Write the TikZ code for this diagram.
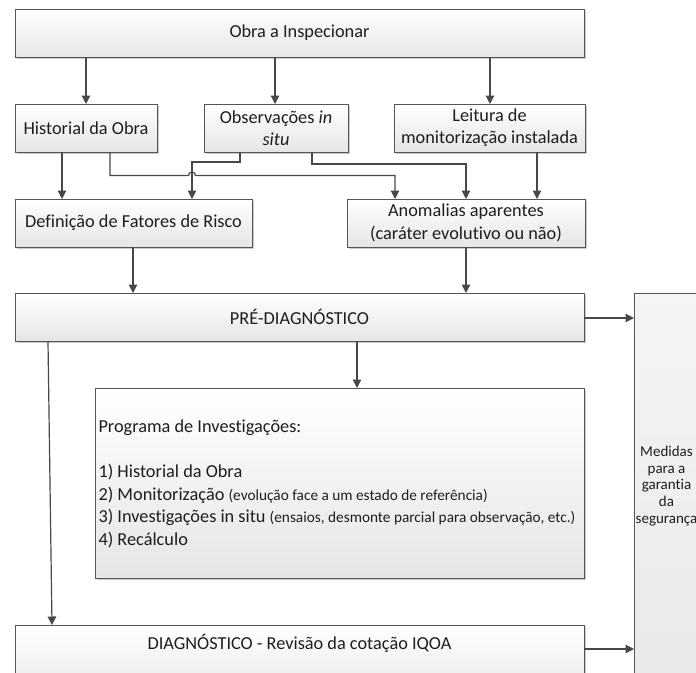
\documentclass[tikz,border=0pt]{standalone}
\usepackage{fontspec}
\setmainfont[Ligatures=NoCommon]{Carlito}
\usetikzlibrary{arrows.meta,shadows}
\definecolor{linec}{HTML}{484848}
\definecolor{boxline}{HTML}{555555}
\definecolor{txt}{HTML}{1E1E1E}
\tikzset{
  box/.style={draw=boxline, line width=1pt, top color=white, bottom color=black!10,
    drop shadow={shadow xshift=1.6pt, shadow yshift=-1.6pt, opacity=0.35, fill=black!60},
    inner sep=0pt, outer sep=0pt, align=center, text=txt,
    font=\fontsize{18.3}{22.3}\selectfont},
  conn/.style={draw=linec, line width=1.2pt, -{Triangle[length=8.5pt,width=8.5pt]}},
  lbl/.style={inner sep=0pt, outer sep=0pt, text=txt, align=center}
}
\newcommand{\smalltext}{\fontsize{15.3}{18}\selectfont}
\begin{document}
\begin{tikzpicture}[x=1pt,y=-1pt]
\useasboundingbox (0,0) rectangle (696,672);
\clip (0,0) rectangle (696,672);
% boxes
\node[box, minimum width=569pt, minimum height=48pt] (obra) at (299.5,33) {Obra a Inspecionar};
\node[box, minimum width=142pt, minimum height=48pt] (hist) at (86,128) {Historial da Obra};
\node[box, minimum width=144pt, minimum height=48pt] (obs) at (276,128) {Observações \textit{in}\\\textit{situ}};
\node[box, minimum width=191pt, minimum height=48pt] (leit) at (489.5,128) {Leitura de\\monitorização instalada};
\node[box, minimum width=237pt, minimum height=48pt] (def) at (133.5,223) {Definição de Fatores de Risco};
\node[box, minimum width=238pt, minimum height=48pt] (anom) at (466,223) {Anomalias aparentes\\(caráter evolutivo ou não)};
\node[box, minimum width=569pt, minimum height=48pt] (pre) at (299.5,317) {PRÉ-DIAGNÓSTICO};
\node[box, minimum width=489pt, minimum height=190pt] (prog) at (339.5,483) {};
\node[lbl, anchor=west, align=left, font=\fontsize{18.3}{22.6}\selectfont] (progtxt) at (98.5,484) {Programa de Investigações:\\[22.6pt]
1) Historial da Obra\\
2) Monitorização {\smalltext(evolução face a um estado de referência)}\\
3) Investigações in situ {\smalltext(ensaios, desmonte parcial para observação, etc.)}\\
4) Recálculo};
\node[box, minimum width=569pt, minimum height=80pt] (diag) at (299.5,665) {};
\node[lbl, font=\fontsize{18.3}{22.3}\selectfont] (diagtxt) at (299.5,643) {DIAGNÓSTICO - Revisão da cotação IQOA};
\node[box, top color=black!4, bottom color=black!9, minimum width=80pt, minimum height=420pt] (med) at (674,503) {};
\node[lbl, font=\fontsize{15}{16.8}\selectfont] (medtxt) at (666.5,486) {Medidas\\para a\\garantia\\da\\segurança};
% connectors
\draw[conn] (86,0 |- obra.south) -- (86,0 |- hist.north);
\draw[conn] (275,0 |- obra.south) -- (275,0 |- obs.north);
\draw[conn] (490,0 |- obra.south) -- (490,0 |- leit.north);
\draw[conn] (62,0 |- hist.south) -- (62,0 |- def.north);
\draw[conn] (240,0 |- obs.south) -- (240,162) -- (192,162) -- (192,0 |- def.north);
\draw[conn] (110,0 |- hist.south) -- (110,175.5) -- (188.5,175.5) arc[start angle=180, end angle=0, radius=3.5pt] -- (395,175.5) -- (395,0 |- anom.north);
\draw[conn] (312,0 |- obs.south) -- (312,164) -- (466,164) -- (466,0 |- anom.north);
\draw[conn] (537,0 |- leit.south) -- (537,0 |- anom.north);
\draw[conn] (133,0 |- def.south) -- (133,0 |- pre.north);
\draw[conn] (466,0 |- anom.south) -- (466,0 |- pre.north);
\draw[conn] (357,0 |- pre.south) -- (357,0 |- prog.north);
\draw[conn] (48,0 |- pre.south) -- (52,0 |- diag.north);
\draw[conn] (0,318 -| pre.east) -- (0,318 -| med.west);
\draw[conn] (0,649 -| diag.east) -- (0,649 -| med.west);
\end{tikzpicture}
\end{document}
